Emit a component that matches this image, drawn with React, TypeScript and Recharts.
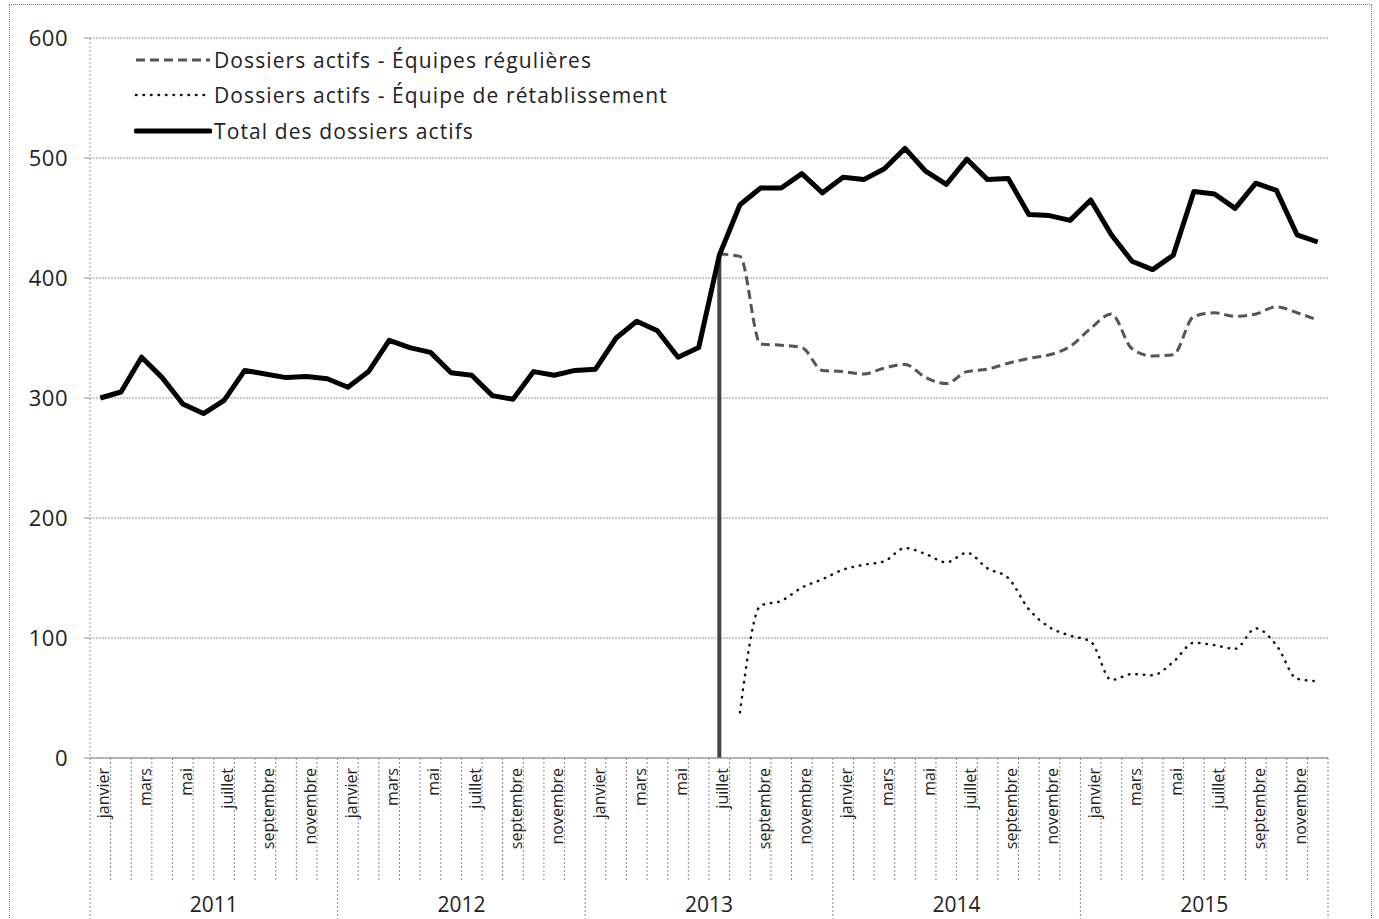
import React from 'react';
import {
  LineChart,
  Line,
  XAxis,
  YAxis,
  CartesianGrid,
  Legend,
  ReferenceLine
} from 'recharts';

const monthNames = [
  'janvier', 'février', 'mars', 'avril', 'mai', 'juin',
  'juillet', 'août', 'septembre', 'octobre', 'novembre', 'décembre'
];
const years = [2011, 2012, 2013, 2014, 2015];
const yTicks = [0, 100, 200, 300, 400, 500, 600];

// Total des dossiers actifs, janvier 2011 -> décembre 2015
const totalActifs = [
  300, 305, 334, 317, 295, 287, 298, 323, 320, 317, 318, 316,
  309, 322, 348, 342, 338, 321, 319, 302, 299, 322, 319, 323,
  324, 350, 364, 356, 334, 342, 419, 461, 475, 475, 487, 471,
  484, 482, 491, 508, 489, 478, 499, 482, 483, 453, 452, 448,
  465, 436, 414, 407, 419, 472, 470, 458, 479, 473, 436, 430
];

// Équipes régulières : à partir de juillet 2013
const regulieresStart = 30;
const equipesRegulieres = [
  420, 418, 345, 344, 342, 323, 322, 320, 325, 328, 317, 312,
  322, 324, 329, 333, 336, 343, 358, 370, 341, 335, 336, 368,
  371, 368, 370, 376, 371, 365
];

// Équipe de rétablissement : à partir d'août 2013
const retablissementStart = 31;
const equipeRetablissement = [
  38, 127, 131, 142, 149, 157, 161, 164, 175, 170, 163, 171,
  158, 150, 124, 109, 102, 97, 65, 70, 69, 80, 96, 94,
  91, 108, 94, 66, 64
];

const ruptureIndex = 30;
const ruptureValue = 420;

const data = years.flatMap((year, yi) =>
  monthNames.map((month, mi) => {
    const i = yi * 12 + mi;
    return {
      key: `${year}-${mi + 1}`,
      month,
      year,
      total: totalActifs[i],
      regulieres: i >= regulieresStart ? equipesRegulieres[i - regulieresStart] : null,
      retablissement: i >= retablissementStart ? equipeRetablissement[i - retablissementStart] : null
    };
  })
);

const FONT = "'Open Sans', Lato, sans-serif";
const W = 1379;
const H = 919;
const MARGIN = { top: 38, right: 51, left: 20, bottom: 0 };
const Y_AXIS_W = 70;
const X_AXIS_H = 161;
const PLOT_W = W - MARGIN.left - MARGIN.right - Y_AXIS_W;
const BAND = PLOT_W / data.length;
const AXIS_Y = H - X_AXIS_H;

function MonthTick(props: any) {
  const { x, index } = props;
  const entry = data[index];
  if (!entry) return null;
  const left = x - BAND / 2;
  const right = x + BAND / 2;
  const yearStart = index % 12 === 0;
  return (
    <g>
      <line x1={left} x2={left} y1={AXIS_Y} y2={yearStart ? H + 10 : AXIS_Y + 124}
        stroke="#8a8a8a" strokeDasharray="2 2" />
      {index === data.length - 1 && (
        <line x1={right} x2={right} y1={AXIS_Y} y2={H + 10} stroke="#8a8a8a" strokeDasharray="2 2" />
      )}
      {index % 2 === 0 && (
        <text
          transform={`translate(${x + 3},${AXIS_Y + 10}) rotate(-90)`}
          textAnchor="end"
          dominantBaseline="central"
          fontSize={16}
          fontFamily={FONT}
          fill="#222"
        >
          {entry.month}
        </text>
      )}
      {index % 12 === 6 && (
        <text x={left} y={H - 7} textAnchor="middle" fontSize={21} fontFamily={FONT} fill="#222">
          {entry.year}
        </text>
      )}
    </g>
  );
}

const legendItems = [
  { label: 'Dossiers actifs - Équipes régulières', stroke: '#555', width: 3, dash: '9 5', cap: 'butt' },
  { label: 'Dossiers actifs - Équipe de rétablissement', stroke: '#111', width: 2.5, dash: '0.5 7', cap: 'round' },
  { label: 'Total des dossiers actifs', stroke: '#000', width: 5, dash: undefined, cap: 'round' }
];

function LegendBox() {
  return (
    <div style={{ fontFamily: FONT, fontSize: 21, letterSpacing: 1.1, color: '#222' }}>
      {legendItems.map((item) => (
        <div key={item.label} style={{ display: 'flex', alignItems: 'center', height: 35.5 }}>
          <svg width={78} height={12} style={{ marginRight: 2 }}>
            <line x1={2} x2={76} y1={6} y2={6} stroke={item.stroke} strokeWidth={item.width}
              strokeDasharray={item.dash} strokeLinecap={item.cap as any} />
          </svg>
          <span>{item.label}</span>
        </div>
      ))}
    </div>
  );
}

export default function App() {
  return (
    <div style={{ position: 'absolute', left: 0, top: 0, width: W, height: H, overflow: 'hidden', background: '#fff' }}>
      <div style={{
        position: 'absolute', left: 9, top: 4, width: 1363, height: 960,
        border: '1px dotted #777', boxSizing: 'border-box'
      }} />
      <LineChart width={W} height={H} data={data} margin={MARGIN}>
        <CartesianGrid vertical={false} stroke="#9a9a9a" strokeDasharray="2 1" />
        <XAxis
          dataKey="key"
          interval={0}
          height={X_AXIS_H}
          tickLine={false}
          axisLine={{ stroke: '#8a8a8a' }}
          padding={{ left: BAND / 2, right: BAND / 2 }}
          tick={<MonthTick />}
        />
        <YAxis
          width={Y_AXIS_W}
          domain={[0, 600]}
          ticks={yTicks}
          tickSize={6}
          tickMargin={16}
          axisLine={{ stroke: '#9a9a9a', strokeDasharray: '2 2' }}
          tickLine={{ stroke: '#9a9a9a' }}
          tick={{ fontSize: 22, fontFamily: FONT, fill: '#222', letterSpacing: 0.5 }}
        />
        <Legend
          layout="vertical"
          align="center"
          verticalAlign="middle"
          wrapperStyle={{ top: 42, left: 134, width: 'auto' }}
          content={() => <LegendBox />}
        />
        <ReferenceLine
          segment={[
            { x: data[ruptureIndex].key, y: 0 },
            { x: data[ruptureIndex].key, y: ruptureValue }
          ]}
          stroke="#444"
          strokeWidth={4}
        />
        <Line
          type="monotone"
          dataKey="regulieres"
          stroke="#555"
          strokeWidth={3}
          strokeDasharray="9 5"
          dot={false}
          isAnimationActive={false}
        />
        <Line
          type="monotone"
          dataKey="retablissement"
          stroke="#111"
          strokeWidth={2.5}
          strokeDasharray="0.5 7"
          strokeLinecap="round"
          dot={false}
          isAnimationActive={false}
        />
        <Line
          type="linear"
          dataKey="total"
          stroke="#000"
          strokeWidth={5}
          strokeLinejoin="round"
          dot={false}
          isAnimationActive={false}
        />
      </LineChart>
    </div>
  );
}
